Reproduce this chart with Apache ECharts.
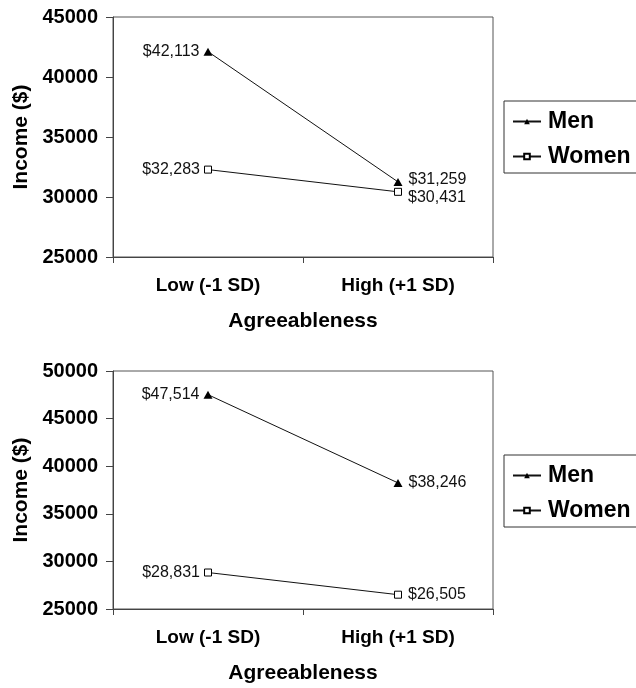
<!DOCTYPE html>
<html>
<head>
<meta charset="utf-8">
<script src="https://cdn.jsdelivr.net/npm/echarts@6/dist/echarts.min.js"></script>
<style>
  html, body { margin: 0; padding: 0; background: #fff; }
  #chart { width: 636px; height: 688px; }
</style>
</head>
<body>
<div id="chart"></div>
<script>
const categories = ['Low (-1 SD)', 'High (+1 SD)']
const seriesNames = ['Men', 'Women']

// top panel
const topMen = [42113, 31259]
const topWomen = [32283, 30431]
const topTicks = [25000, 45000, 5000] // min, max, step

// bottom panel
const bottomMen = [47514, 38246]
const bottomWomen = [28831, 26505]
const bottomTicks = [25000, 50000, 5000]

const FONT = 'Liberation Sans, Arial, sans-serif'
const INK = '#000'

const money = (v) => '$' + v.toLocaleString('en-US')

const xAxisFor = (gridIndex) => ({
  type: 'category',
  gridIndex,
  data: categories,
  boundaryGap: true,
  name: 'Agreeableness',
  nameLocation: 'middle',
  nameGap: 54,
  nameTextStyle: { fontFamily: FONT, fontWeight: 'bold', fontSize: 21, color: INK },
  axisLine: { lineStyle: { color: '#444', width: 1 } },
  axisTick: { show: true, length: 6, lineStyle: { color: '#444' } },
  axisLabel: { margin: 19, fontFamily: FONT, fontWeight: 'bold', fontSize: 19, color: INK },
  splitLine: { show: false }
})

const yAxisFor = (gridIndex, ticks) => ({
  type: 'value',
  gridIndex,
  min: ticks[0],
  max: ticks[1],
  interval: ticks[2],
  name: 'Income ($)',
  nameLocation: 'middle',
  nameRotate: 90,
  nameGap: 80,
  nameTextStyle: { fontFamily: FONT, fontWeight: 'bold', fontSize: 21, color: INK },
  axisLine: { show: true, lineStyle: { color: '#444', width: 1 } },
  axisTick: { show: true, length: 7, lineStyle: { color: '#444' } },
  axisLabel: {
    margin: 15, fontFamily: FONT, fontWeight: 'bold', fontSize: 20, color: INK,
    formatter: (v) => String(v)
  },
  splitLine: { show: false }
})

const lineSeries = (name, data, idx, isMen, rightOffset) => ({
  name,
  type: 'line',
  xAxisIndex: idx,
  yAxisIndex: idx,
  data: data.map((v, i) => ({
    value: v,
    label: i === 0
      ? { position: 'left', distance: 4 }
      : { position: 'right', distance: 6, offset: rightOffset }
  })),
  symbol: isMen ? 'triangle' : 'rect',
  symbolSize: isMen ? [9, 8] : 7,
  lineStyle: { color: '#111', width: 1 },
  itemStyle: isMen
    ? { color: INK, borderColor: INK, borderWidth: 0 }
    : { color: '#fff', borderColor: INK, borderWidth: 1 },
  label: {
    show: true,
    fontFamily: FONT,
    fontSize: 16,
    color: '#111',
    formatter: (p) => money(p.value)
  },
  emphasis: { disabled: true },
  animation: false
})

const legendFor = (top) => ({
  orient: 'vertical',
  left: 504,
  top,
  data: seriesNames,
  itemWidth: 28,
  itemHeight: 7,
  itemGap: 10,
  padding: [8, 30, 4, 8],
  borderColor: '#333',
  borderWidth: 1,
  backgroundColor: '#fff',
  textStyle: { fontFamily: FONT, fontWeight: 'bold', fontSize: 23, color: INK, lineHeight: 25, padding: [0, 0, 0, 2] },
  selectedMode: false
})

const chart = echarts.init(document.getElementById('chart'), null, { renderer: 'canvas' })
chart.setOption({
  backgroundColor: '#fff',
  animation: false,
  grid: [
    { left: 113, top: 17, width: 380, height: 240, show: true, borderColor: '#555', borderWidth: 1 },
    { left: 113, top: 371, width: 380, height: 238, show: true, borderColor: '#555', borderWidth: 1 }
  ],
  legend: [legendFor(101), legendFor(455)],
  xAxis: [xAxisFor(0), xAxisFor(1)],
  yAxis: [yAxisFor(0, topTicks), yAxisFor(1, bottomTicks)],
  series: [
    lineSeries('Men', topMen, 0, true, [0, -2]),
    lineSeries('Women', topWomen, 0, false, [0, 6]),
    lineSeries('Men', bottomMen, 1, true, [0, 0]),
    lineSeries('Women', bottomWomen, 1, false, [0, 0])
  ]
})
</script>
</body>
</html>
